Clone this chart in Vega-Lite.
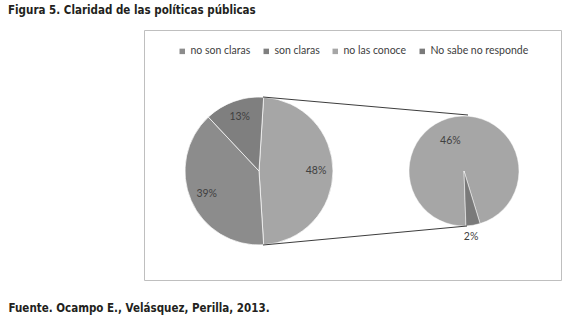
{
  "$schema": "https://vega.github.io/schema/vega-lite/v6.json",
  "width": 417,
  "height": 250,
  "autosize": {"type": "none"},
  "padding": {"left": 144, "top": 30, "right": 6, "bottom": 36},
  "background": "white",
  "config": {
    "view": {"stroke": "#bfbfbf", "strokeWidth": 1},
    "font": "Lato"
  },
  "title": {
    "text": "Figura 5. Claridad de las políticas públicas",
    "anchor": "start",
    "frame": "group",
    "dx": -136,
    "offset": 14,
    "font": "Liberation Sans Narrow, DejaVu Sans Condensed",
    "fontSize": 11.5,
    "fontWeight": "bold",
    "color": "#231f20"
  },
  "datasets": {
    "principal": [
      {"pie": "principal", "categoria": "Otros", "valor": 0.48},
      {"pie": "principal", "categoria": "no son claras", "valor": 0.39},
      {"pie": "principal", "categoria": "son claras", "valor": 0.13}
    ],
    "secundario": [
      {"pie": "secundario", "categoria": "no las conoce", "valor": 0.46},
      {"pie": "secundario", "categoria": "No sabe no responde", "valor": 0.02}
    ],
    "conectores": [
      {"pie": "principal", "hasta": "secundario"}
    ]
  },
  "encoding": {
    "x": {
      "field": "pie",
      "type": "nominal",
      "scale": {"type": "point", "domain": ["principal", "secundario"], "range": [115, 320], "padding": 0},
      "axis": {
        "title": "Fuente. Ocampo E., Velásquez, Perilla, 2013.",
        "labels": false,
        "ticks": false,
        "domain": false,
        "grid": false,
        "titleX": -136,
        "titleY": 31,
        "titleAlign": "left",
        "titleBaseline": "alphabetic",
        "titleFont": "Liberation Sans Narrow, DejaVu Sans Condensed",
        "titleFontSize": 11.5,
        "titleFontWeight": "bold",
        "titleColor": "#231f20"
      }
    },
    "y": {
      "field": "pie",
      "type": "nominal",
      "scale": {"type": "point", "domain": ["principal", "secundario"], "range": [141, 141], "padding": 0},
      "axis": null
    }
  },
  "layer": [
    {
      "data": {"name": "principal"},
      "encoding": {
        "theta": {"field": "valor", "type": "quantitative", "stack": true, "scale": {"range": [0.0628, 6.346]}},
        "order": {"field": "valor", "sort": "descending"},
        "color": {
          "field": "categoria",
          "type": "nominal",
          "scale": {
            "domain": ["no son claras", "son claras", "no las conoce", "No sabe no responde", "Otros"],
            "range": ["#8c8c8c", "#7f7f7f", "#a6a6a6", "#7a7a7a", "#a6a6a6"]
          },
          "legend": {
            "values": ["no son claras", "son claras", "no las conoce", "No sabe no responde"],
            "orient": "none",
            "legendX": 33,
            "legendY": 16,
            "direction": "horizontal",
            "title": null,
            "symbolType": "square",
            "symbolSize": 30,
            "symbolStrokeWidth": 0,
            "labelFont": "Lato",
            "labelFontSize": 10.5,
            "labelColor": "#404040",
            "labelOffset": 3,
            "columnPadding": 10,
            "padding": 0
          }
        }
      },
      "layer": [
        {"mark": {"type": "arc", "outerRadius": 74, "stroke": "white", "strokeWidth": 0.7}},
        {
          "mark": {"type": "text", "radius": 57, "font": "Lato", "fontSize": 10.5},
          "encoding": {
            "text": {"field": "valor", "type": "quantitative", "format": ".0%"},
            "color": {"value": "#404040"},
            "detail": {"field": "categoria"}
          }
        }
      ]
    },
    {
      "data": {"name": "secundario"},
      "encoding": {
        "theta": {"field": "valor", "type": "quantitative", "stack": true, "scale": {"range": [2.845, 9.128]}},
        "order": {"field": "valor", "sort": "ascending"},
        "color": {
          "field": "categoria",
          "type": "nominal",
          "scale": {
            "domain": ["no son claras", "son claras", "no las conoce", "No sabe no responde", "Otros"],
            "range": ["#8c8c8c", "#7f7f7f", "#a6a6a6", "#7a7a7a", "#a6a6a6"]
          },
          "legend": {
            "values": ["no son claras", "son claras", "no las conoce", "No sabe no responde"],
            "orient": "none",
            "legendX": 33,
            "legendY": 16,
            "direction": "horizontal",
            "title": null,
            "symbolType": "square",
            "symbolSize": 30,
            "symbolStrokeWidth": 0,
            "labelFont": "Lato",
            "labelFontSize": 10.5,
            "labelColor": "#404040",
            "labelOffset": 3,
            "columnPadding": 10,
            "padding": 0
          }
        }
      },
      "layer": [
        {"mark": {"type": "arc", "outerRadius": 55, "stroke": "white", "strokeWidth": 0.5}},
        {
          "mark": {"type": "text", "radius": 34, "dx": -8, "dy": 4, "font": "Lato", "fontSize": 10.5},
          "encoding": {
            "text": {"field": "valor", "type": "quantitative", "format": ".0%"},
            "color": {"value": "#404040"},
            "detail": {"field": "categoria"},
            "opacity": {"condition": {"test": "datum.categoria === 'no las conoce'", "value": 1}, "value": 0}
          }
        },
        {
          "mark": {"type": "text", "radius": 67, "dx": -4, "font": "Lato", "fontSize": 10.5},
          "encoding": {
            "text": {"field": "valor", "type": "quantitative", "format": ".0%"},
            "color": {"value": "#404040"},
            "detail": {"field": "categoria"},
            "opacity": {"condition": {"test": "datum.categoria === 'No sabe no responde'", "value": 1}, "value": 0}
          }
        }
      ]
    },
    {
      "data": {"name": "conectores"},
      "mark": {"type": "rule", "color": "#262626", "strokeWidth": 0.9, "xOffset": 4, "x2Offset": 4, "yOffset": -74, "y2Offset": -56},
      "encoding": {
        "x2": {"field": "hasta"},
        "y2": {"field": "hasta"}
      }
    },
    {
      "data": {"name": "conectores"},
      "mark": {"type": "rule", "color": "#262626", "strokeWidth": 0.9, "xOffset": 4, "x2Offset": 3, "yOffset": 74, "y2Offset": 55},
      "encoding": {
        "x2": {"field": "hasta"},
        "y2": {"field": "hasta"}
      }
    }
  ],
  "resolve": {"scale": {"theta": "independent"}}
}
